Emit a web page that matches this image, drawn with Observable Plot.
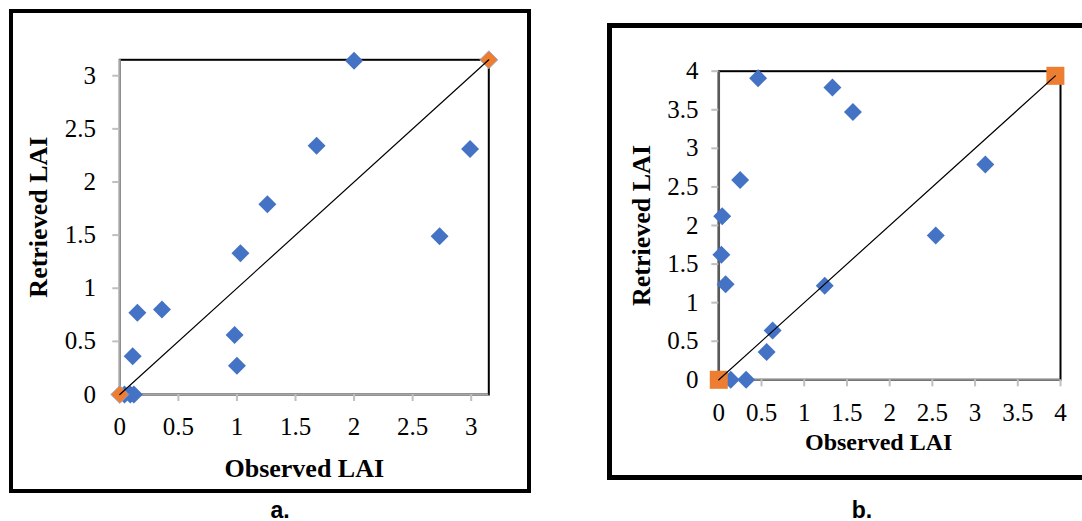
<!DOCTYPE html>
<html><head><meta charset="utf-8">
<script src="https://cdn.jsdelivr.net/npm/d3@7"></script>
<script src="https://cdn.jsdelivr.net/npm/@observablehq/plot@0.6"></script>
<style>
body{margin:0;background:#fff;width:1082px;height:521px;overflow:hidden;position:relative;}
.panel{position:absolute;top:0;}
.border{position:absolute;border:solid #000;box-sizing:border-box;}
.cap{position:absolute;font-family:"Liberation Sans",Arial,sans-serif;font-weight:bold;font-size:23px;line-height:1;text-align:center;width:60px;}
</style></head><body>
<div id="a" class="panel" style="left:0"></div>
<div id="b" class="panel" style="left:600px"></div>
<div class="border" style="left:9px;top:9px;width:522px;height:484px;border-width:4.8px"></div>
<div class="border" style="left:607px;top:23px;width:520px;height:457px;border-width:5px"></div>
<div class="cap" style="left:250px;top:498.5px">a.</div>
<div class="cap" style="left:832px;top:498.5px">b.</div>
<script>
// ---- Data ----
const ticksA = [0, 0.5, 1, 1.5, 2, 2.5, 3];
const ticksB = [0, 0.5, 1, 1.5, 2, 2.5, 3, 3.5, 4];

// Panel a: observed vs retrieved LAI
const obsA = [0.04, 0.09, 0.12, 0.11, 0.15, 0.36, 0.98, 1.00, 1.03, 1.26, 1.68, 2.00, 2.73, 2.99];
const retA = [0.00, 0.00, 0.00, 0.36, 0.77, 0.80, 0.56, 0.27, 1.33, 1.79, 2.34, 3.14, 1.49, 2.31];
const lineObsA = [0, 3.15];
const lineRetA = [0, 3.15];
const maxA = 3.15;

// Panel b
const obsB = [0.46, 1.33, 1.57, 0.25, 0.04, 0.03, 0.08, 1.24, 0.63, 0.56, 0.32, 0.14, 3.12, 2.54];
const retB = [3.91, 3.79, 3.47, 2.59, 2.12, 1.62, 1.24, 1.22, 0.64, 0.36, 0.00, 0.00, 2.79, 1.87];
const lineObsB = [0, 3.94];
const lineRetB = [0, 3.94];
const maxB = 4;

const xTitle = "Observed LAI";
const yTitle = "Retrieved LAI";

const BLUE = "#4472C4", ORANGE = "#ED7D31";
const SERIF = "Liberation Serif";

function makePanel(o) {
  const pts = o.obs.map((x, i) => ({x, y: o.ret[i]}));
  const line = o.lineObs.map((x, i) => ({x, y: o.lineRet[i]}));
  return Plot.plot({
    width: o.width, height: o.height,
    marginLeft: o.ml, marginRight: o.mr, marginTop: o.mt, marginBottom: o.mb,
    style: {background: "transparent", fontFamily: SERIF, fontSize: "25px", color: "black", overflow: "visible"},
    x: {domain: [0, o.max], label: null},
    y: {domain: [0, o.max], label: null},
    marks: [
      Plot.frame({stroke: "black", strokeWidth: 2}),
      Plot.ruleX([0], {stroke: o.leftColor, strokeWidth: o.leftWidth}),
      Plot.ruleY([0], {stroke: o.bottomColor, strokeWidth: 2}),
      Plot.axisX({ticks: o.ticks, tickFormat: d => String(d), tickSize: 7, tickPadding: o.xPad,
        stroke: "#bfbfbf", strokeWidth: 2, fill: "black", fontSize: 25, fontFamily: SERIF, label: null}),
      Plot.axisY({ticks: o.ticks, tickFormat: d => String(d), tickSize: 7, tickPadding: o.yPad,
        stroke: "#bfbfbf", strokeWidth: 2, fill: "black", fontSize: 25, fontFamily: SERIF, label: null}),
      Plot.dot(pts, {x: "x", y: "y", symbol: "diamond2", r: 8.1, fill: BLUE}),
      Plot.dot(line, {x: "x", y: "y", symbol: o.orangeSymbol, r: o.orangeR, fill: ORANGE,
        stroke: o.orangeStroke, strokeWidth: 0.8}),
      Plot.line(line, {x: "x", y: "y", stroke: "black", strokeWidth: 1.2}),
      Plot.text([yTitle], {text: d => d, frameAnchor: "left", dx: o.ytDx, dy: o.ytDy, rotate: -90,
        textAnchor: "middle", lineAnchor: "middle",
        fontSize: o.ytSize, fontWeight: "bold", fontFamily: SERIF, fill: "black"}),
      Plot.text([xTitle], {text: d => d, frameAnchor: "bottom", dx: o.xtDx, dy: o.xtDy,
        textAnchor: "middle", lineAnchor: "middle",
        fontSize: o.xtSize, fontWeight: "bold", fontFamily: SERIF, fill: "black"})
    ]
  });
}

document.getElementById("a").append(makePanel({
  obs: obsA, ret: retA, lineObs: lineObsA, lineRet: lineRetA, ticks: ticksA, max: maxA,
  width: 540, height: 500, ml: 119.3, mr: 51.7, mt: 59.3, mb: 106,
  leftColor: "#a6a6a6", leftWidth: 2, bottomColor: "#a6a6a6",
  xPad: 16.2, yPad: 16.8, orangeSymbol: "diamond2", orangeR: 8.1, orangeStroke: "#8fa9dc",
  ytDx: -80.7, ytDy: -10, ytSize: 26, xtDx: 0, xtDy: 73.7, xtSize: 26
}));

document.getElementById("b").append(makePanel({
  obs: obsB, ret: retB, lineObs: lineObsB, lineRet: lineRetB, ticks: ticksB, max: maxB,
  width: 482, height: 500, ml: 118.3, mr: 22, mt: 70.7, mb: 120.7,
  leftColor: "#595959", leftWidth: 2.5, bottomColor: "#8c8c8c",
  xPad: 16, yPad: 13.3, orangeSymbol: "square", orangeR: 10.16, orangeStroke: "none",
  ytDx: -77.3, ytDy: 0, ytSize: 26, xtDx: -11, xtDy: 63, xtSize: 24
}));
</script>
</body></html>
